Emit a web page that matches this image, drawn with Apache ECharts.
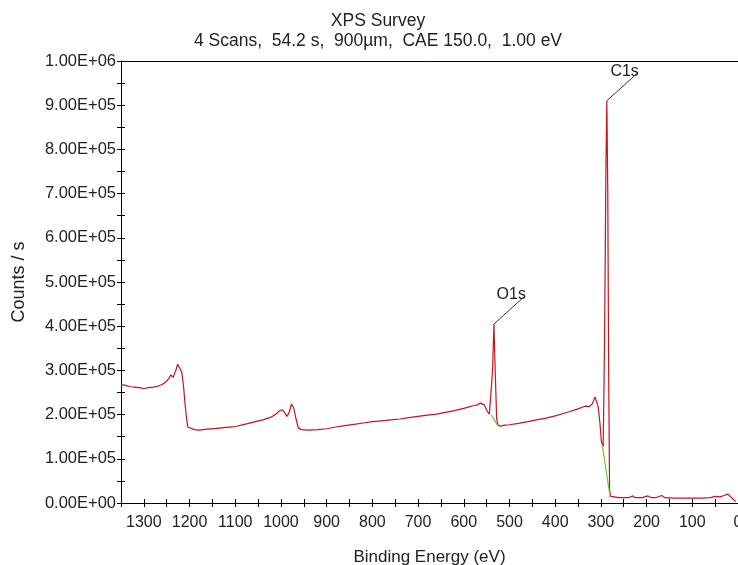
<!DOCTYPE html>
<html>
<head>
<meta charset="utf-8">
<title>XPS Survey</title>
<script src="https://cdn.jsdelivr.net/npm/echarts@6.0.0/dist/echarts.min.js"></script>
<style>
  html, body { margin: 0; padding: 0; background: #fff; overflow: hidden; }
  #chart { width: 738px; height: 565px; }
</style>
</head>
<body>
<div id="chart"></div>
<script>
// survey spectrum (binding energy in eV, counts / s)
var energy = [1350, 1340, 1330, 1320, 1310, 1300, 1290, 1280, 1270, 1260, 1252, 1245, 1241, 1236, 1230, 1226, 1222, 1217, 1213, 1210, 1207, 1204, 1200, 1190,
  1180, 1160, 1140, 1120, 1100, 1080, 1060, 1040, 1020, 1010, 1004, 998, 992, 987, 982, 977, 972, 967, 962, 955, 940, 920,
  900, 880, 860, 840, 820, 800, 780, 760, 740, 720, 700, 680, 660, 640, 620, 600, 590, 580, 570, 564, 560, 555, 549, 544, 540,
  537, 534, 531, 528, 525, 520, 510, 500, 480, 460, 441, 420, 400, 380, 368, 350, 335, 325, 318, 313, 309, 306, 302, 299, 295,
  292, 289, 287, 285, 283, 281, 279, 275, 260, 250, 240, 230, 225, 210, 197, 190, 180, 167, 160, 140, 120, 100, 80, 60, 50, 40, 30, 22, 16, 10, 5];
var counts = [268000, 266000, 263000, 262000, 261000, 259000, 261000, 262000, 264000, 268000, 274000, 282000, 290000, 284000, 300000, 314000, 312000, 296000, 262000, 225000, 195000, 172000, 168000, 166000,
  165000, 167000, 169000, 171000, 173000, 178000, 183000, 188000, 195000, 202000, 208000, 211000, 205000, 196000, 205000, 224000, 215000, 190000, 170000, 166000, 165000, 166000,
  168000, 172000, 175000, 178000, 181000, 184000, 186000, 188000, 190000, 193000, 196000, 199000, 201000, 205000, 209000, 214000, 217000, 220000, 222000, 226000, 228000, 222000, 208000, 201000, 199000,
  300000, 405000, 290000, 190000, 176000, 174000, 176000, 177000, 180000, 184000, 188000, 192000, 197000, 203000, 207000, 213000, 219000, 218000, 225000, 240000, 228000, 218000, 180000, 139000, 127000,
  362000, 760000, 910000, 712000, 300000, 30000, 15000, 13000, 12000, 12000, 12000, 16000, 12000, 12000, 16000, 12000, 12000, 17000, 12000, 11000, 11000, 11000, 11000, 12000, 15000, 14000, 17000, 20000, 14000, 8000, 3000];

// background lines under the two peaks (green)
var o1sBgEnergy = [540, 527];
var o1sBgCounts = [199000, 177000];
var c1sBgEnergy = [297, 281];
var c1sBgCounts = [132000, 22000];

// peak labels
var peakNames = ['C1s', 'O1s'];
var peakEnergy = [287, 534];
var peakCounts = [910000, 405000];

var FONT = 'Liberation Sans, Arial, sans-serif';

function pairs(xs, ys) {
  return xs.map(function (x, i) { return [x, ys[i]]; });
}

function sci(v) {
  if (v === 0) return '0.00E+00';
  var e = Math.floor(Math.log10(v) + 1e-9);
  var m = v / Math.pow(10, e);
  return m.toFixed(2) + 'E+' + String(e).padStart(2, '0');
}

var chart = echarts.init(document.getElementById('chart'));

var xBase = { type: 'value', inverse: true, min: 0, max: 1350, interval: 50, splitLine: { show: false } };
var yBase = { type: 'value', min: 0, max: 1000000, interval: 50000, splitLine: { show: false } };

chart.setOption({
  animation: false,
  backgroundColor: '#fff',
  title: {
    text: 'XPS Survey\n4 Scans,  54.2 s,  900µm,  CAE 150.0,  1.00 eV',
    left: 373,
    top: 6,
    textAlign: 'center',
    textStyle: { fontFamily: FONT, fontSize: 17.5, fontWeight: 'normal', color: '#222', lineHeight: 20 }
  },
  grid: { left: 121, right: 0, top: 61, bottom: 62, outerBoundsMode: 'none' },
  xAxis: [
    Object.assign({}, xBase, {
      position: 'bottom',
      axisLine: { onZero: false, lineStyle: { color: '#000', width: 1 } },
      axisTick: { length: 4, lineStyle: { color: '#000' } },
      axisLabel: {
        margin: 12, color: '#222', fontFamily: FONT, fontSize: 16,
        formatter: function (v) { return v % 100 === 0 ? String(v) : ''; }
      },
      name: 'Binding Energy (eV)',
      nameLocation: 'middle',
      nameGap: 46,
      nameTextStyle: { fontFamily: FONT, fontSize: 17, color: '#222' }
    }),
    Object.assign({}, xBase, {
      position: 'bottom',
      axisLine: { show: false, onZero: false },
      axisTick: { inside: true, length: 4, lineStyle: { color: '#000' } },
      axisLabel: { show: false }
    }),
    Object.assign({}, xBase, {
      position: 'top',
      axisLine: { show: true, onZero: false, lineStyle: { color: '#000', width: 1 } },
      axisTick: { show: false },
      axisLabel: { show: false }
    })
  ],
  yAxis: [
    Object.assign({}, yBase, {
      position: 'left',
      axisLine: { show: true, onZero: false, lineStyle: { color: '#000', width: 1 } },
      axisTick: { show: true, length: 4, lineStyle: { color: '#000' } },
      axisLabel: {
        margin: 5, color: '#222', fontFamily: FONT, fontSize: 16.5,
        formatter: function (v) { return v % 100000 === 0 ? sci(v) : ''; }
      },
      name: 'Counts / s',
      nameLocation: 'middle',
      nameGap: 93,
      nameTextStyle: { fontFamily: FONT, fontSize: 18, color: '#222' }
    }),
    Object.assign({}, yBase, {
      position: 'left',
      axisLine: { show: false, onZero: false },
      axisTick: { show: true, inside: true, length: 4, lineStyle: { color: '#000' } },
      axisLabel: { show: false }
    })
  ],
  series: [
    {
      type: 'line',
      data: pairs(energy, counts),
      showSymbol: false,
      lineStyle: { color: '#c4141c', width: 1.2 },
      z: 2
    },
    {
      type: 'line',
      data: pairs(o1sBgEnergy, o1sBgCounts),
      showSymbol: false,
      lineStyle: { color: '#6cc43c', width: 1.2 },
      z: 3
    },
    {
      type: 'line',
      data: pairs(c1sBgEnergy, c1sBgCounts),
      showSymbol: false,
      lineStyle: { color: '#6cc43c', width: 1.2 },
      z: 3
    },
    {
      type: 'custom',
      data: pairs(peakEnergy, peakCounts),
      z: 4,
      renderItem: function (params, api) {
        var p = api.coord([api.value(0), api.value(1)]);
        var ex = p[0] + 31, ey = p[1] - 28;
        return {
          type: 'group',
          children: [
            { type: 'line', shape: { x1: p[0], y1: p[1], x2: ex, y2: ey }, style: { stroke: '#333', lineWidth: 1 } },
            { type: 'text', style: { text: peakNames[params.dataIndex], x: ex + 1, y: p[1] - 21, align: 'right', verticalAlign: 'bottom', fontFamily: FONT, fontSize: 16, fill: '#222' } }
          ]
        };
      }
    }
  ]
});
</script>
</body>
</html>
